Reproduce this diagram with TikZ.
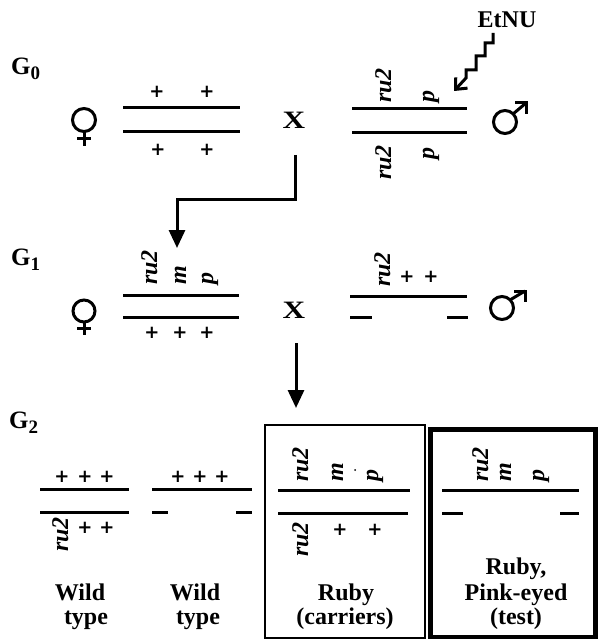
\documentclass[tikz,border=0pt]{standalone}
\usepackage{fontspec}
\setmainfont{Liberation Serif}
\newfontfamily\plusfont{DejaVu Sans Bold}
\usetikzlibrary{arrows.meta}
\newcommand\bigfont{\fontsize{24}{28}\selectfont}
\begin{document}
\begin{tikzpicture}[x=1pt,y=-1pt,
  chrom/.style={line width=3pt},
  lab/.style={font=\bigfont\bfseries\itshape, rotate=90, anchor=base west, inner sep=0pt},
  pl/.style={font=\plusfont\fontsize{18}{20}\selectfont, inner sep=0pt},
  txt/.style={font=\bigfont\bfseries, anchor=base, inner sep=0pt},
  gen/.style={font=\fontsize{25}{28}\selectfont\bfseries, anchor=base west, inner sep=0pt},
  sym/.style={line width=3pt},
  arr/.style={line width=3pt, -{Triangle[length=18pt,width=16pt]}},
  thinbox/.style={line width=2pt},
  thickbox/.style={line width=5pt}]
\useasboundingbox (0,0) rectangle (598,639);

% generation labels
\node[gen] (g0) at (11,75) {G\raisebox{-5pt}{\fontsize{19}{19}\selectfont 0}};
\node[gen] (g1) at (11,265) {G\raisebox{-5pt}{\fontsize{19}{19}\selectfont 1}};
\node[gen] (g2) at (9,428) {G\raisebox{-5pt}{\fontsize{19}{19}\selectfont 2}};

% ---------------- G0 ----------------
\begin{scope}[shift={(84,120)}]
  \draw[sym] (0,0) circle[radius=11.5pt];
  \draw[sym] (0,11.5) -- (0,26);
  \draw[sym] (-7,18.5) -- (7,18.5);
\end{scope}
\draw[chrom] (123,108) -- (240,108);
\draw[chrom] (123,132) -- (240,132);
\node[pl] (p01) at (157,92) {+};
\node[pl] (p02) at (207,92) {+};
\node[pl] (p03) at (158,150) {+};
\node[pl] (p04) at (207,150) {+};
\node[font=\fontsize{25}{28}\selectfont\bfseries, inner sep=0pt] (x0) at (294,120) {\scalebox{1.25}[1]{X}};
% male
\draw[chrom] (352,109) -- (467,109);
\draw[chrom] (352,133) -- (467,133);
\node[lab] (m01) at (391,103) {ru2};
\node[lab] (m02) at (434,103) {p};
\node[lab] (m03) at (391,180) {ru2};
\node[lab] (m04) at (434,160) {p};
\begin{scope}[shift={(505,122)}]
  \draw[sym] (0,0) circle[radius=11.5pt];
  \draw[sym] (8.1,-8.1) -- (21,-19);
  \draw[sym, miter limit=10] (10,-19) -- (21,-19) -- (21,-8);
\end{scope}
\node[txt] (etnu) at (507,28) {EtNU};
\coordinate (z0) at (493,33);
\coordinate (z1) at (454,91);
\draw[line width=3pt, -{Straight Barb[length=9pt,width=16pt,line width=3pt]}]
  (z0) -- (493,43) -- (485,43) -- (485,56) -- (476,56) -- (476,70) -- (466,70) -- (466,78) -- (z1);

% arrow G0 -> G1
\coordinate (a1s) at (295,155);
\coordinate (a1e) at (177,248);
\draw[arr] (a1s) -- (295,199) -| (a1e);

% ---------------- G1 ----------------
\begin{scope}[shift={(84,311)}]
  \draw[sym] (0,0) circle[radius=11pt];
  \draw[sym] (0,11) -- (0,24);
  \draw[sym] (-7,17.5) -- (7,17.5);
\end{scope}
\draw[chrom] (123,295) -- (239,295);
\draw[chrom] (123,317) -- (239,317);
\node[lab] (f11) at (157,285) {ru2};
\node[lab] (f12) at (186,285) {m};
\node[lab] (f13) at (213,285) {p};
\node[pl] (p11) at (152,333) {+};
\node[pl] (p12) at (180,333) {+};
\node[pl] (p13) at (207,333) {+};
\node[font=\fontsize{25}{28}\selectfont\bfseries, inner sep=0pt] (x1) at (294,310) {\scalebox{1.25}[1]{X}};
\draw[chrom] (350,296) -- (467,296);
\draw[chrom] (350,317) -- (372,317);
\draw[chrom] (447,317) -- (468,317);
\node[lab] (m11) at (390,287) {ru2};
\node[pl] (p14) at (407,277) {+};
\node[pl] (p15) at (431,277) {+};
\begin{scope}[shift={(502,308)}]
  \draw[sym] (0,0) circle[radius=11.5pt];
  \draw[sym] (8.1,-8.1) -- (23,-17);
  \draw[sym, miter limit=10] (12,-17) -- (23,-17) -- (23,-6);
\end{scope}

% arrow G1 -> G2
\coordinate (a2s) at (296,343);
\coordinate (a2e) at (296,408);
\draw[arr] (a2s) -- (a2e);

% ---------------- G2 ----------------
\draw[chrom] (40,489) -- (129,489);
\draw[chrom] (40,512) -- (129,512);
\node[pl] (w11) at (62,477) {+};
\node[pl] (w12) at (85,477) {+};
\node[pl] (w13) at (107,477) {+};
\node[lab] (w14) at (68,552) {ru2};
\node[pl] (w15) at (85,528) {+};
\node[pl] (w16) at (107,528) {+};
\node[txt] (t11) at (80,600) {Wild};
\node[txt] (t12) at (86,624) {type};
\draw[chrom] (152,489) -- (252,489);
\draw[chrom] (152,512) -- (168,512);
\draw[chrom] (236,512) -- (252,512);
\node[pl] (w21) at (178,477) {+};
\node[pl] (w22) at (200,477) {+};
\node[pl] (w23) at (222,477) {+};
\node[txt] (t21) at (195,600) {Wild};
\node[txt] (t22) at (198,624) {type};
\draw[thinbox] (265,425) rectangle (425,638);
\draw[chrom] (278,490) -- (410,490);
\draw[chrom] (278,513) -- (408,513);
\node[lab] (r1) at (308,482) {ru2};
\node[lab] (r2) at (343,482) {m};
\node[lab] (r3) at (378,482) {p};
\fill (355,470) circle[radius=1pt];
\node[lab] (r4) at (308,557) {ru2};
\node[pl] (r5) at (340,530) {+};
\node[pl] (r6) at (375,530) {+};
\node[txt] (t31) at (346,600) {Ruby};
\node[txt] (t32) at (345,624) {(carriers)};
\draw[thickbox] (430.5,429.5) rectangle (595.5,637.5);
\draw[chrom] (442,490) -- (579,490);
\draw[chrom] (442,513) -- (463,513);
\draw[chrom] (560,513) -- (579,513);
\node[lab] (s1) at (488,482) {ru2};
\node[lab] (s2) at (511,482) {m};
\node[lab] (s3) at (544,482) {p};
\node[txt] (t41) at (516,574) {Ruby,};
\node[txt] (t42) at (516,600) {Pink-eyed};
\node[txt] (t43) at (516,624) {(test)};
\end{tikzpicture}
\end{document}
